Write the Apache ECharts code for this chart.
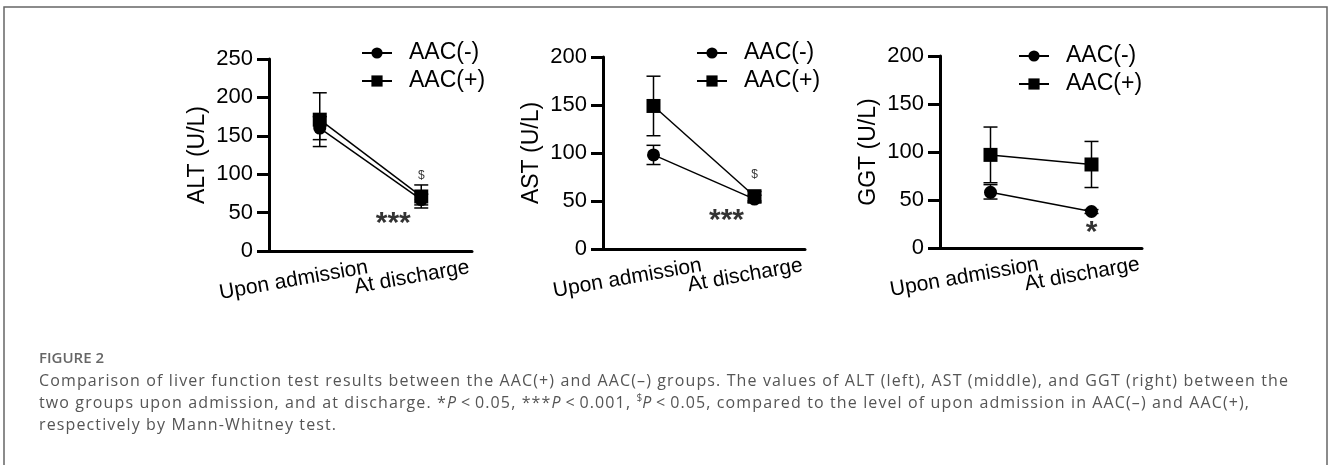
<!DOCTYPE html>
<html>
<head>
<meta charset="utf-8">
<script src="https://cdn.jsdelivr.net/npm/echarts@6/dist/echarts.min.js"></script>
<style>
  html, body { margin: 0; padding: 0; background: #fff; }
  #wrap { position: relative; width: 1328px; height: 465px; overflow: hidden; }
  #chart { width: 1328px; height: 465px; }
  #cap {
    position: absolute; left: 39px; top: 346px;
    font-family: "Open Sans", sans-serif; color: #555;
    white-space: nowrap;
  }
  #cap .fig { font-size: 15px; font-weight: 600; color: #666; height: 23px; line-height: 22px; }
  #cap .txt { font-size: 16px; line-height: 22px; letter-spacing: 1.12px; }
  #cap sup { font-size: 10px; letter-spacing: 0; line-height: 0; vertical-align: 0; position: relative; top: -7px; }
</style>
</head>
<body>
<div id="wrap">
  <div id="chart"></div>
  <div id="cap">
    <div class="fig">FIGURE 2</div>
    <div class="txt">Comparison of liver function test results between the AAC(+) and AAC(&ndash;) groups. The values of ALT (left), AST (middle), and GGT (right) between the<br>two groups upon admission, and at discharge. *<i>P</i>&thinsp;&lt;&thinsp;0.05, ***<i>P</i>&thinsp;&lt;&thinsp;0.001, <sup>$</sup><i>P</i>&thinsp;&lt;&thinsp;0.05, compared to the level of upon admission in AAC(&ndash;) and AAC(+),<br>respectively by Mann-Whitney test.</div>
  </div>
</div>
<script>
// categories and values
const categories = ['Upon admission', 'At discharge']

const altNeg = [160, 67]
const altPos = [171, 71]
const altNegErr = [[0, 145, 175], [1, 60, 74]]
const altPosErr = [[0, 136, 206], [1, 56, 86]]

const astNeg = [98, 52]
const astPos = [149, 55]
const astNegErr = [[0, 88, 108], [1, 48, 56]]
const astPosErr = [[0, 118, 180], [1, 50, 60]]

const ggtNeg = [58, 38]
const ggtPos = [97, 87]
const ggtNegErr = [[0, 51, 66], [1, 36, 40]]
const ggtPosErr = [[0, 68, 126], [1, 63, 111]]

// significance marks: [category index, value, text]
const altMarks = [[1, 44, '***'], [1, 98, '$']]
const astMarks = [[1, 37, '***'], [1, 77, '$']]
const ggtMarks = [[1, 23, '*']]

const yMax = [250, 200, 200]
const yNames = ['ALT (U/L)', 'AST (U/L)', 'GGT (U/L)']

const FONT = 'Liberation Sans, Arial, sans-serif'

const chart = echarts.init(document.getElementById('chart'))

function renderErr (params, api) {
  const x = api.value(0)
  const top = api.coord([x, api.value(2)])
  const bot = api.coord([x, api.value(1)])
  const w = 7
  const style = { stroke: '#000', lineWidth: 1.5 }
  return {
    type: 'group',
    children: [
      { type: 'line', shape: { x1: top[0], y1: top[1], x2: bot[0], y2: bot[1] }, style },
      { type: 'line', shape: { x1: top[0] - w, y1: top[1], x2: top[0] + w, y2: top[1] }, style },
      { type: 'line', shape: { x1: bot[0] - w, y1: bot[1], x2: bot[0] + w, y2: bot[1] }, style }
    ]
  }
}

const grids = [
  { left: 269, top: 59, width: 203, height: 192 },
  { left: 603, top: 57, width: 202, height: 192 },
  { left: 940, top: 56, width: 202, height: 192 }
]
const legendPos = [
  { left: 361, top: 39 },
  { left: 696, top: 39 },
  { left: 1018, top: 42 }
]

const panels = [
  { neg: altNeg, pos: altPos, negErr: altNegErr, posErr: altPosErr, marks: altMarks },
  { neg: astNeg, pos: astPos, negErr: astNegErr, posErr: astPosErr, marks: astMarks },
  { neg: ggtNeg, pos: ggtPos, negErr: ggtNegErr, posErr: ggtPosErr, marks: ggtMarks }
]

// label style for each kind of mark
const markStyle = {
  '***': { fontSize: 30, fontWeight: 'bold', offset: [-28, 7] },
  '*': { fontSize: 30, fontWeight: 'bold', offset: [0, 7] },
  '$': { fontSize: 12, fontWeight: 'normal', offset: [0, 0] }
}

const series = []
panels.forEach((p, i) => {
  series.push({
    type: 'custom', xAxisIndex: i, yAxisIndex: i, renderItem: renderErr,
    encode: { x: 0, y: [1, 2] }, data: p.negErr, z: 2, silent: true
  })
  series.push({
    type: 'custom', xAxisIndex: i, yAxisIndex: i, renderItem: renderErr,
    encode: { x: 0, y: [1, 2] }, data: p.posErr, z: 2, silent: true
  })
  series.push({
    name: 'AAC(-)', type: 'line', xAxisIndex: i, yAxisIndex: i,
    symbol: 'circle', symbolSize: 13, z: 3,
    lineStyle: { color: '#000', width: 1.5 }, itemStyle: { color: '#000' },
    data: p.neg
  })
  series.push({
    name: 'AAC(+)', type: 'line', xAxisIndex: i, yAxisIndex: i,
    symbol: 'rect', symbolSize: 14, z: 4,
    lineStyle: { color: '#000', width: 1.5 }, itemStyle: { color: '#000' },
    data: p.pos
  })
  p.marks.forEach(m => {
    const st = markStyle[m[2]]
    series.push({
      type: 'scatter', xAxisIndex: i, yAxisIndex: i, symbol: 'circle', symbolSize: 2, z: 5, silent: true,
      itemStyle: { color: 'rgba(0,0,0,0)' },
      data: [[m[0], m[1]]],
      label: {
        show: true, position: 'inside', color: '#000', fontFamily: FONT,
        fontSize: st.fontSize, fontWeight: st.fontWeight, offset: st.offset,
        formatter: m[2]
      }
    })
  })
})

const option = {
  backgroundColor: '#fff',
  animation: false,
  textStyle: { fontFamily: FONT },
  grid: grids.map(g => Object.assign({ outerBoundsMode: 'none' }, g)),
  legend: legendPos.map(l => ({
    left: l.left, top: l.top, orient: 'vertical', padding: 0,
    data: ['AAC(-)', 'AAC(+)'],
    selectedMode: false,
    itemWidth: 30, itemHeight: 14, itemGap: 0,
    textStyle: { fontSize: 23, lineHeight: 28, color: '#000', fontFamily: FONT, padding: [0, 0, 0, 12] }
  })),
  xAxis: grids.map((g, i) => ({
    type: 'category', gridIndex: i, data: categories, boundaryGap: true,
    axisLine: { lineStyle: { color: '#000', width: 3 } },
    axisTick: { alignWithLabel: true, length: 12, lineStyle: { color: '#000', width: 3 } },
    axisLabel: {
      rotate: 10, color: '#000', fontSize: 21, fontFamily: FONT,
      margin: 14, align: 'right', verticalAlign: 'top', interval: 0,
      padding: [0, -47, 0, 0]
    },
    splitLine: { show: false }
  })),
  yAxis: grids.map((g, i) => ({
    type: 'value', gridIndex: i, min: 0, max: yMax[i], interval: 50,
    name: yNames[i], nameLocation: 'middle', nameGap: 60, nameRotate: 90,
    nameTextStyle: { fontSize: 23, color: '#000', fontFamily: FONT },
    axisLine: { show: true, lineStyle: { color: '#000', width: 3 } },
    axisTick: { show: true, length: 12, lineStyle: { color: '#000', width: 3 } },
    axisLabel: { color: '#000', fontSize: 22, fontFamily: FONT, margin: 16 },
    splitLine: { show: false }
  })),
  graphic: [
    {
      type: 'rect', silent: true,
      shape: { x: 4, y: 7, width: 1323, height: 480 },
      style: { fill: null, stroke: '#666', lineWidth: 1.5 }
    }
  ],
  series: series
}

chart.setOption(option)
</script>
</body>
</html>
